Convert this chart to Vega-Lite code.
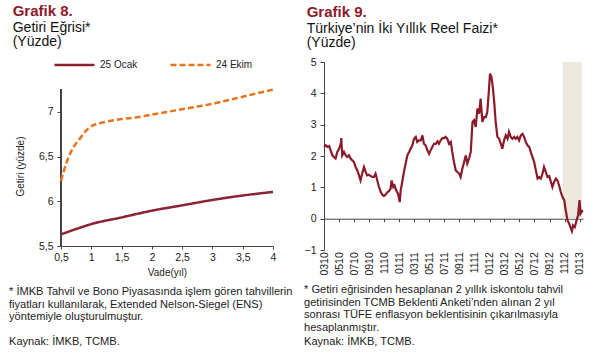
{
  "$schema": "https://vega.github.io/schema/vega-lite/v6.json",
  "background": "#ffffff",
  "padding": {"left": 9, "top": 3, "right": 0, "bottom": 0},
  "autosize": {"type": "pad"},
  "spacing": 11,
  "config": {
    "font": "Liberation Sans",
    "view": {"stroke": null},
    "axis": {"labelFont": "Liberation Sans", "labelFontSize": 10.5, "labelColor": "#222222", "domainColor": "#444444", "tickColor": "#444444", "grid": false, "titleFont": "Liberation Sans", "titleFontWeight": "normal", "titleColor": "#222222", "titleFontSize": 10},
    "axisY": {"labelOverlap": false},
    "axisX": {"labelOverlap": false},
    "legend": {"orient": "none", "legendX": -8, "legendY": -18.7, "direction": "horizontal", "symbolType": "stroke", "symbolSize": 1600, "symbolStrokeWidth": 2.5, "labelFont": "Liberation Sans", "labelFontSize": 10, "labelColor": "#222222", "columnPadding": 27, "labelOffset": 4}
  },
  "hconcat": [
    {
      "title": {"text": "Grafik 8.", "subtitle": ["Getiri Eğrisi*", "(Yüzde)"], "anchor": "start", "frame": "group", "dx": -48.3, "offset": -6, "font": "Liberation Sans", "fontSize": 15, "fontWeight": "bold", "color": "#8b1a2b", "subtitleFont": "Liberation Sans", "subtitleFontSize": 14, "subtitleColor": "#111111", "subtitleLineHeight": 14.5, "subtitlePadding": 2},
      "resolve": {"scale": {"color": "independent", "strokeDash": "independent"}, "legend": {"color": "independent", "strokeDash": "independent"}},
      "vconcat": [
        {
          "width": 212,
          "height": 184,
          "title": {"text": ["* İMKB Tahvil ve Bono Piyasasında işlem gören tahvillerin", "fiyatları kullanılarak, Extended Nelson-Siegel (ENS)", "yöntemiyle oluşturulmuştur."], "subtitle": "Kaynak: İMKB, TCMB.", "orient": "bottom", "anchor": "start", "frame": "group", "dx": -52, "offset": 9, "font": "Liberation Sans", "fontSize": 11.1, "fontWeight": "normal", "color": "#222222", "lineHeight": 12.5, "subtitleFont": "Liberation Sans", "subtitleFontSize": 11.1, "subtitleColor": "#222222", "subtitlePadding": 14},
          "data": {"values": [
            {"seri": "25 Ocak", "vade": 0.5, "getiri": 5.63},
            {"seri": "25 Ocak", "vade": 0.75, "getiri": 5.69},
            {"seri": "25 Ocak", "vade": 1.0, "getiri": 5.745},
            {"seri": "25 Ocak", "vade": 1.5, "getiri": 5.82},
            {"seri": "25 Ocak", "vade": 2.0, "getiri": 5.895},
            {"seri": "25 Ocak", "vade": 2.5, "getiri": 5.955},
            {"seri": "25 Ocak", "vade": 3.0, "getiri": 6.015},
            {"seri": "25 Ocak", "vade": 3.5, "getiri": 6.065},
            {"seri": "25 Ocak", "vade": 4.0, "getiri": 6.105},
            {"seri": "24 Ekim", "vade": 0.5, "getiri": 6.23},
            {"seri": "24 Ekim", "vade": 0.6, "getiri": 6.45},
            {"seri": "24 Ekim", "vade": 0.7, "getiri": 6.6},
            {"seri": "24 Ekim", "vade": 0.8, "getiri": 6.69},
            {"seri": "24 Ekim", "vade": 0.9, "getiri": 6.78},
            {"seri": "24 Ekim", "vade": 1.0, "getiri": 6.84},
            {"seri": "24 Ekim", "vade": 1.25, "getiri": 6.89},
            {"seri": "24 Ekim", "vade": 1.5, "getiri": 6.92},
            {"seri": "24 Ekim", "vade": 1.75, "getiri": 6.94},
            {"seri": "24 Ekim", "vade": 2.0, "getiri": 6.97},
            {"seri": "24 Ekim", "vade": 2.25, "getiri": 7.0},
            {"seri": "24 Ekim", "vade": 2.5, "getiri": 7.03},
            {"seri": "24 Ekim", "vade": 2.75, "getiri": 7.06},
            {"seri": "24 Ekim", "vade": 3.0, "getiri": 7.09},
            {"seri": "24 Ekim", "vade": 3.25, "getiri": 7.13},
            {"seri": "24 Ekim", "vade": 3.5, "getiri": 7.17},
            {"seri": "24 Ekim", "vade": 3.75, "getiri": 7.21},
            {"seri": "24 Ekim", "vade": 4.0, "getiri": 7.25}
          ]},
          "layer": [
            {
              "mark": {"type": "rule", "color": "#444444", "strokeWidth": 1},
              "encoding": {
                "x": {"datum": 0.5, "type": "quantitative"},
                "y": {"datum": 5.5, "type": "quantitative"},
                "y2": {"datum": 7.25}
              }
            },
            {
              "mark": {"type": "line", "strokeWidth": 2.5, "interpolate": "monotone"},
              "encoding": {
                "x": {"field": "vade", "type": "quantitative", "scale": {"domain": [0.5, 4], "nice": false, "zero": false}, "axis": {"values": [0.5, 1, 1.5, 2, 2.5, 3, 3.5, 4], "tickCount": 8, "format": "~g", "labelExpr": "replace(datum.label, '.', ',')", "title": "Vade(yıl)", "tickSize": 3, "labelPadding": 3.5, "titlePadding": 4, "labelFlush": false, "labelOverlap": false, "labelSeparation": 0}},
                "y": {"field": "getiri", "type": "quantitative", "scale": {"domain": [5.5, 7.5584], "nice": false, "zero": false}, "axis": {"values": [5.5, 6, 6.5, 7], "tickCount": 4, "format": "~g", "labelExpr": "replace(datum.label, '.', ',')", "title": "Getiri (yüzde)", "titleY": 104, "domain": false, "tickSize": 4, "labelPadding": 4, "titlePadding": 13, "labelFlush": false, "labelOverlap": false}},
                "color": {"field": "seri", "type": "nominal", "scale": {"domain": ["25 Ocak", "24 Ekim"], "range": ["#8b2231", "#e8731c"]}, "legend": {"title": null}},
                "strokeDash": {"field": "seri", "type": "nominal", "scale": {"domain": ["25 Ocak", "24 Ekim"], "range": [[1, 0], [6, 3]]}, "legend": {"title": null}}
              }
            }
          ]
        }
      ]
    },
    {
      "title": {"text": "Grafik 9.", "subtitle": ["Türkiye’nin İki Yıllık Reel Faizi*", "(Yüzde)"], "anchor": "start", "frame": "group", "dx": -17.3, "offset": 7, "font": "Liberation Sans", "fontSize": 15, "fontWeight": "bold", "color": "#8b1a2b", "subtitleFont": "Liberation Sans", "subtitleFontSize": 14, "subtitleColor": "#111111", "subtitleLineHeight": 14.5, "subtitlePadding": 2},
      "vconcat": [
        {
          "width": 259,
          "height": 188,
          "title": {"text": ["* Getiri eğrisinden hesaplanan 2 yıllık iskontolu tahvil", "getirisinden TCMB Beklenti Anketi’nden alınan 2 yıl", "sonrası TÜFE enflasyon beklentisinin çıkarılmasıyla", "hesaplanmıştır."], "subtitle": "Kaynak: İMKB, TCMB.", "orient": "bottom", "anchor": "start", "frame": "group", "dx": -20, "offset": 9, "font": "Liberation Sans", "fontSize": 11.1, "fontWeight": "normal", "color": "#222222", "lineHeight": 12.5, "subtitleFont": "Liberation Sans", "subtitleFontSize": 11.1, "subtitleColor": "#222222", "subtitlePadding": 3},
          "layer": [
            {
              "data": {"values": [{"baslangic": "2012-10-24", "bitis": "2013-01-10"}]},
              "mark": {"type": "rect", "color": "#ece8dd"},
              "encoding": {
                "x": {"field": "baslangic", "type": "temporal", "scale": {"type": "utc"}},
                "x2": {"field": "bitis"},
                "y": {"datum": 0, "type": "quantitative"},
                "y2": {"datum": 5}
              }
            },
            {
              "data": {"values": [
                {"t": "2010-03-01", "v": 2.29}, {"t": "2010-03-08", "v": 2.34}, {"t": "2010-03-15", "v": 2.29}, {"t": "2010-03-22", "v": 2.32},
                {"t": "2010-03-28", "v": 2.18}, {"t": "2010-04-04", "v": 2.02}, {"t": "2010-04-10", "v": 1.97}, {"t": "2010-04-17", "v": 1.92},
                {"t": "2010-04-24", "v": 2.13}, {"t": "2010-05-01", "v": 2.23}, {"t": "2010-05-08", "v": 2.39}, {"t": "2010-05-10", "v": 2.57},
                {"t": "2010-05-14", "v": 2.02}, {"t": "2010-05-21", "v": 2.13}, {"t": "2010-05-28", "v": 2.02}, {"t": "2010-06-03", "v": 1.97},
                {"t": "2010-06-10", "v": 2.02}, {"t": "2010-06-17", "v": 1.92}, {"t": "2010-06-24", "v": 1.86}, {"t": "2010-06-30", "v": 1.81},
                {"t": "2010-07-07", "v": 1.65}, {"t": "2010-07-14", "v": 1.54}, {"t": "2010-07-21", "v": 1.38}, {"t": "2010-07-27", "v": 1.22},
                {"t": "2010-08-03", "v": 1.44}, {"t": "2010-08-10", "v": 1.65}, {"t": "2010-08-17", "v": 1.49}, {"t": "2010-08-23", "v": 1.38},
                {"t": "2010-08-30", "v": 1.4}, {"t": "2010-09-06", "v": 1.36}, {"t": "2010-09-13", "v": 1.33}, {"t": "2010-09-19", "v": 1.33},
                {"t": "2010-09-26", "v": 1.44}, {"t": "2010-10-03", "v": 1.22}, {"t": "2010-10-10", "v": 1.01}, {"t": "2010-10-17", "v": 0.85},
                {"t": "2010-10-23", "v": 0.77}, {"t": "2010-10-30", "v": 0.72}, {"t": "2010-11-06", "v": 0.77}, {"t": "2010-11-13", "v": 0.85},
                {"t": "2010-11-19", "v": 0.87}, {"t": "2010-11-26", "v": 0.96}, {"t": "2010-11-30", "v": 1.22}, {"t": "2010-12-07", "v": 1.01},
                {"t": "2010-12-12", "v": 1.06}, {"t": "2010-12-19", "v": 0.9}, {"t": "2010-12-26", "v": 0.8}, {"t": "2011-01-02", "v": 0.53},
                {"t": "2011-01-06", "v": 0.9}, {"t": "2011-01-12", "v": 1.17}, {"t": "2011-01-19", "v": 1.49}, {"t": "2011-01-26", "v": 1.76},
                {"t": "2011-02-02", "v": 2.02}, {"t": "2011-02-09", "v": 2.13}, {"t": "2011-02-15", "v": 2.23}, {"t": "2011-02-22", "v": 2.34},
                {"t": "2011-03-01", "v": 2.55}, {"t": "2011-03-08", "v": 2.61}, {"t": "2011-03-14", "v": 2.45}, {"t": "2011-03-21", "v": 2.5},
                {"t": "2011-03-28", "v": 2.5}, {"t": "2011-04-04", "v": 2.66}, {"t": "2011-04-10", "v": 2.39}, {"t": "2011-04-17", "v": 2.34},
                {"t": "2011-04-24", "v": 2.18}, {"t": "2011-05-01", "v": 2.07}, {"t": "2011-05-07", "v": 2.18}, {"t": "2011-05-14", "v": 2.29},
                {"t": "2011-05-21", "v": 2.39}, {"t": "2011-05-28", "v": 2.39}, {"t": "2011-06-04", "v": 2.47}, {"t": "2011-06-10", "v": 2.39},
                {"t": "2011-06-17", "v": 2.5}, {"t": "2011-06-24", "v": 2.57}, {"t": "2011-07-01", "v": 2.57}, {"t": "2011-07-07", "v": 2.61},
                {"t": "2011-07-14", "v": 2.55}, {"t": "2011-07-21", "v": 2.39}, {"t": "2011-07-28", "v": 2.45}, {"t": "2011-08-03", "v": 2.13},
                {"t": "2011-08-10", "v": 1.81}, {"t": "2011-08-17", "v": 1.54}, {"t": "2011-08-24", "v": 1.49}, {"t": "2011-08-31", "v": 1.44},
                {"t": "2011-09-06", "v": 1.33}, {"t": "2011-09-13", "v": 1.6}, {"t": "2011-09-20", "v": 1.81}, {"t": "2011-09-27", "v": 2.02},
                {"t": "2011-10-03", "v": 1.76}, {"t": "2011-10-10", "v": 1.92}, {"t": "2011-10-17", "v": 2.13}, {"t": "2011-10-24", "v": 3.09},
                {"t": "2011-10-30", "v": 3.14}, {"t": "2011-11-06", "v": 2.93}, {"t": "2011-11-13", "v": 3.51}, {"t": "2011-11-20", "v": 3.35},
                {"t": "2011-11-26", "v": 3.83}, {"t": "2011-12-03", "v": 3.09}, {"t": "2011-12-10", "v": 3.24}, {"t": "2011-12-17", "v": 3.24},
                {"t": "2011-12-23", "v": 3.4}, {"t": "2011-12-30", "v": 4.15}, {"t": "2012-01-03", "v": 4.63}, {"t": "2012-01-09", "v": 4.52},
                {"t": "2012-01-15", "v": 4.15}, {"t": "2012-01-20", "v": 3.72}, {"t": "2012-01-26", "v": 3.09}, {"t": "2012-02-02", "v": 2.61},
                {"t": "2012-02-09", "v": 2.55}, {"t": "2012-02-16", "v": 2.39}, {"t": "2012-02-22", "v": 2.23}, {"t": "2012-02-29", "v": 2.5},
                {"t": "2012-03-07", "v": 2.66}, {"t": "2012-03-14", "v": 2.55}, {"t": "2012-03-20", "v": 2.77}, {"t": "2012-03-27", "v": 2.61},
                {"t": "2012-04-03", "v": 2.55}, {"t": "2012-04-10", "v": 2.61}, {"t": "2012-04-16", "v": 2.55}, {"t": "2012-04-23", "v": 2.61},
                {"t": "2012-04-30", "v": 2.5}, {"t": "2012-05-07", "v": 2.66}, {"t": "2012-05-14", "v": 2.71}, {"t": "2012-05-20", "v": 2.61},
                {"t": "2012-05-27", "v": 2.45}, {"t": "2012-06-03", "v": 2.34}, {"t": "2012-06-10", "v": 2.29}, {"t": "2012-06-16", "v": 2.13},
                {"t": "2012-06-23", "v": 1.97}, {"t": "2012-06-30", "v": 1.81}, {"t": "2012-07-07", "v": 1.54}, {"t": "2012-07-14", "v": 1.28},
                {"t": "2012-07-20", "v": 1.33}, {"t": "2012-07-27", "v": 1.28}, {"t": "2012-08-03", "v": 1.44}, {"t": "2012-08-09", "v": 1.65},
                {"t": "2012-08-16", "v": 1.49}, {"t": "2012-08-23", "v": 1.33}, {"t": "2012-08-30", "v": 1.36}, {"t": "2012-09-06", "v": 1.17},
                {"t": "2012-09-12", "v": 1.01}, {"t": "2012-09-19", "v": 1.17}, {"t": "2012-09-26", "v": 1.28}, {"t": "2012-10-03", "v": 1.22},
                {"t": "2012-10-09", "v": 1.06}, {"t": "2012-10-16", "v": 0.85}, {"t": "2012-10-23", "v": 0.69}, {"t": "2012-10-30", "v": 0.59},
                {"t": "2012-11-05", "v": 0.27}, {"t": "2012-11-12", "v": -0.05}, {"t": "2012-11-19", "v": -0.16}, {"t": "2012-11-26", "v": -0.32},
                {"t": "2012-11-30", "v": -0.4}, {"t": "2012-12-05", "v": -0.21}, {"t": "2012-12-12", "v": -0.27}, {"t": "2012-12-19", "v": -0.05},
                {"t": "2012-12-25", "v": 0.11}, {"t": "2012-12-31", "v": 0.59}, {"t": "2013-01-04", "v": 0.16}, {"t": "2013-01-08", "v": 0.21},
                {"t": "2013-01-13", "v": 0.27}
              ]},
              "mark": {"type": "line", "strokeWidth": 2.2, "color": "#8b1a2a"},
              "encoding": {
                "x": {"field": "t", "type": "temporal", "scale": {"type": "utc", "domain": ["2010-03-01", "2013-01-14"]}, "axis": {"title": null, "format": "%m%y", "tickCount": {"interval": "month", "step": 2}, "labelAngle": -90, "offset": -31.3, "tickSize": 3, "labelPadding": 30, "labelOverlap": false, "labelFlush": false, "labelBound": false}},
                "y": {"field": "v", "type": "quantitative", "scale": {"domain": [-1, 5], "nice": false, "zero": false}, "axis": {"title": null, "values": [-1, 0, 1, 2, 3, 4, 5], "tickCount": 7, "format": "~g", "tickSize": 4, "labelPadding": 4, "labelFlush": false, "labelOverlap": false, "labelSeparation": 0}}
              }
            }
          ]
        }
      ]
    }
  ]
}
